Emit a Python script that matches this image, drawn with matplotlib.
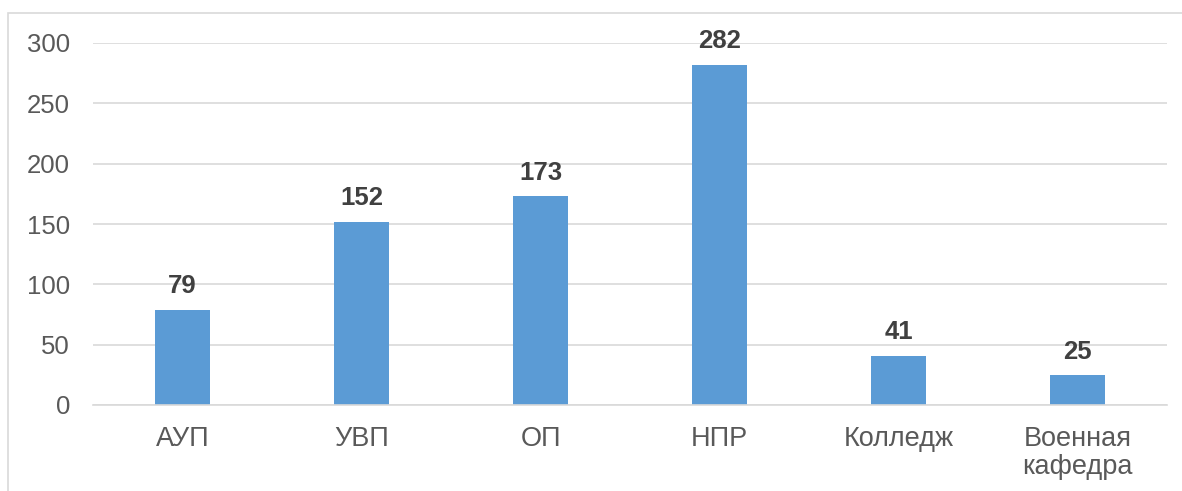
import matplotlib
matplotlib.use("Agg")
import matplotlib.pyplot as plt
from matplotlib.patches import Rectangle

categories = ["АУП", "УВП", "ОП", "НПР", "Колледж", "Военная\nкафедра"]
values = [79, 152, 173, 282, 41, 25]
yticks = [0, 50, 100, 150, 200, 250, 300]

BAR = "#5B9BD5"
TXT = "#595959"
GRID = "#D9D9D9"
FS = 18.5

plt.rcParams["font.family"] = ["Liberation Sans", "DejaVu Sans"]

fig = plt.figure(figsize=(11.82, 4.91), dpi=100)
# chart frame (only left/top edges visible in the crop)
fig.patches.append(Rectangle((8 / 1182, -0.1), 1.2, 1 - 13 / 491 + 0.1,
                             transform=fig.transFigure, fill=False,
                             edgecolor=GRID, lw=1.2))
ax = fig.add_axes([93 / 1182, 1 - 405 / 491, 1074 / 1182, (405 - 43) / 491])

x = range(len(categories))
ax.bar(x, values, width=0.31, color=BAR, zorder=2)
for xi, v in zip(x, values):
    ax.text(xi, v + 13.5, str(v), ha="center", va="baseline", fontsize=FS,
            fontweight="bold", color="#404040")

ax.set_xlim(-0.5, len(categories) - 0.5)
ax.set_ylim(0, 300)
ax.set_yticks(yticks)
ax.set_xticks(list(x))
ax.set_xticklabels(categories, fontsize=19.5, color=TXT, linespacing=1.12)
ax.tick_params(axis="y", labelsize=FS, labelcolor=TXT, length=0, pad=16.5)
ax.tick_params(axis="x", length=0, pad=15)
ax.grid(axis="y", color=GRID, lw=1.2, zorder=0)
for s in ["top", "right", "left"]:
    ax.spines[s].set_visible(False)
ax.spines["bottom"].set_color(GRID)
ax.spines["bottom"].set_linewidth(1.2)
ax.set_axisbelow(True)

fig.savefig("out.png", dpi=100)
